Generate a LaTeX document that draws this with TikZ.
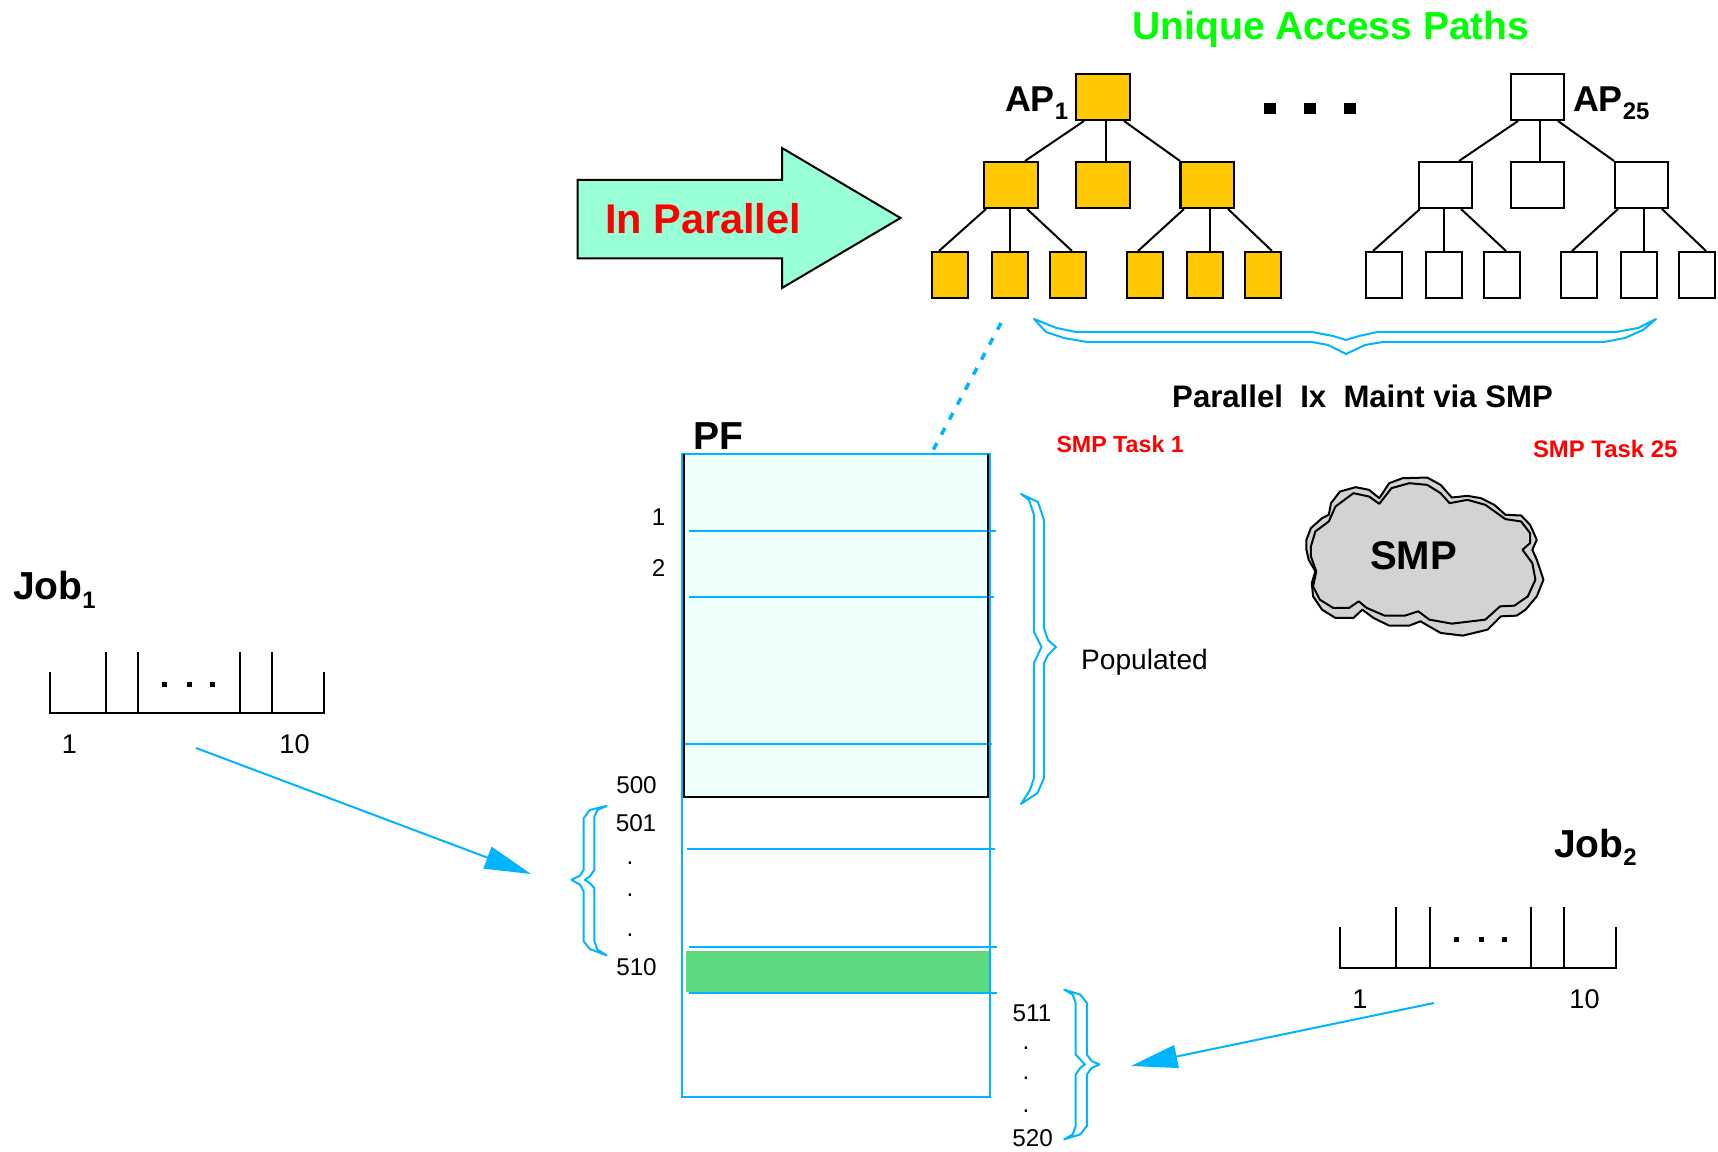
\documentclass[tikz,border=0pt]{standalone}
\usepackage{fontspec}
\setmainfont{Liberation Sans}
\usetikzlibrary{calc,arrows.meta}
\definecolor{skyl}{HTML}{00B4FF}
\definecolor{orng}{HTML}{FFC800}
\definecolor{mint}{HTML}{EFFFF9}
\definecolor{aqua}{HTML}{99FFD6}
\definecolor{grn}{HTML}{5DDA80}
\definecolor{cloudgr}{HTML}{D3D3D3}
\newcommand\fsz[1]{\fontsize{#1}{#1}\selectfont}
\tikzset{
  x=0.01cm,y=-0.01cm,
  tie/.style={draw=black,line width=0.02cm},
  topbox/.style={draw=black,line width=0.02cm,inner sep=0pt,minimum width=0.53cm,minimum height=0.46cm},
  leafbox/.style={draw=black,line width=0.02cm,inner sep=0pt,minimum width=0.365cm,minimum height=0.46cm},
  txt/.style={anchor=base,inner sep=0pt,outer sep=0pt,text=black},
  bigtxt/.style={txt,font=\fsz{11.1}\bfseries},
  aptxt/.style={txt,anchor=base west,font=\fsz{10.2}\bfseries},
  numtxt/.style={txt,font=\fsz{6.9}},
  jobnum/.style={txt,font=\fsz{7.7}},
  tasktxt/.style={txt,text=red,font=\fsz{6.6}\bfseries},
  bluel/.style={draw=skyl,line width=0.02cm},
  brace/.style={draw=skyl,line width=0.02cm,line join=round},
  dotbox/.style={fill=black,inner sep=0pt,draw=none},
  bluearrow/.style={skyl,line width=0.02cm,-{Triangle[length=0.465cm,width=0.23cm]}},
}
% #1 name prefix, #2 fill
\newcommand\aptree[2]{%
  \node[topbox,fill=#2] (#1r) at (1103,97) {};
  \node[topbox,fill=#2] (#1a) at (1011,185) {};
  \node[topbox,fill=#2] (#1b) at (1103,185) {};
  \node[topbox,fill=#2] (#1c) at (1207,185) {};
  \node[leafbox,fill=#2] (#1a1) at (950,275) {};
  \node[leafbox,fill=#2] (#1a2) at (1010,275) {};
  \node[leafbox,fill=#2] (#1a3) at (1068,275) {};
  \node[leafbox,fill=#2] (#1c1) at (1145,275) {};
  \node[leafbox,fill=#2] (#1c2) at (1205,275) {};
  \node[leafbox,fill=#2] (#1c3) at (1263,275) {};
  \aplink{#1r}{-19}{#1a}{14}
  \aplink{#1r}{3}{#1b}{3}
  \aplink{#1r}{21}{#1c}{-27}
  \aplink{#1a}{-25}{#1a1}{-11}
  \aplink{#1a}{-1}{#1a2}{0}
  \aplink{#1a}{16}{#1a3}{4}
  \aplink{#1c}{-23}{#1c1}{-7}
  \aplink{#1c}{3}{#1c2}{5}
  \aplink{#1c}{21}{#1c3}{9}
}
\newcommand\aplink[4]{\draw[tie] ($(#1.south)+(#2,0)$) -- ($(#3.north)+(#4,0)$);}
% job bar: #1 prefix, #2-#7 tick positions; y relative to the scope
\newcommand\jobbar[7]{%
  \draw[tie] (#2,672) -- (#2,712.7) -- (#7,712.7) -- (#7,672);
  \draw[tie] (#3,652) -- (#3,712.7);
  \draw[tie] (#4,652) -- (#4,712.7);
  \draw[tie] (#5,652) -- (#5,712.7);
  \draw[tie] (#6,652) -- (#6,712.7);
  \node[dotbox,minimum size=0.05cm] (#1d1) at ($(#4,684)+(26.5,0)$) {};
  \node[dotbox,minimum size=0.05cm] (#1d2) at ($(#4,684)+(51,0)$) {};
  \node[dotbox,minimum size=0.05cm] (#1d3) at ($(#4,684)+(74.5,0)$) {};
}
\begin{document}
\begin{tikzpicture}
\useasboundingbox (0,0) rectangle (1718,1152);
% title and tree labels
\node[bigtxt,text={rgb,255:red,0;green,255;blue,0}] (title) at (1331,40) {Unique Access Paths};
\aptree{l}{orng}
\begin{scope}[shift={(434,0)}]
\aptree{m}{white}
\end{scope}
\node[aptxt] (ap1) at (1005,112) {AP\raisebox{-0.08cm}{\fsz{6.8}1}};
\node[aptxt] (ap25) at (1573,112) {AP\raisebox{-0.08cm}{\fsz{6.8}25}};
\node[dotbox,minimum width=0.12cm,minimum height=0.11cm] (dot1) at (1270,108.5) {};
\node[dotbox,minimum width=0.12cm,minimum height=0.11cm] (dot2) at (1310,108.5) {};
\node[dotbox,minimum width=0.12cm,minimum height=0.11cm] (dot3) at (1350,108.5) {};
% big arrow
\draw[fill=aqua,draw=black,line width=0.02cm] (577.5,180) -- (782,180) -- (782,148) -- (900.5,218) -- (782,288) -- (782,258.5) -- (577.5,258.5) -- cycle;
\node[txt,text=red,font=\fsz{11.8}\bfseries,anchor=base west] (par) at (605,233.5) {In Parallel};
% top brace
\draw[brace] (1034,319) -- (1056.5,328) -- (1076,332) -- (1312,332) -- (1333,336) -- (1346,340) -- (1359,336) -- (1377,332) -- (1616,332) -- (1638,328) -- (1656,319) -- (1643,330) -- (1625,338) -- (1604,342) -- (1383,342) -- (1365,345) -- (1346,354) -- (1328,345) -- (1312,342) -- (1087,342) -- (1064,338) -- (1046,332) -- cycle;
\node[txt,font=\fsz{8.85}\bfseries] (ixm) at (1362.5,407.5) {Parallel\ \ Ix\ \ Maint via SMP};
\node[tasktxt,anchor=base west] (t1) at (1056.5,453) {SMP Task 1};
\node[tasktxt,anchor=base west,font=\fsz{6.8}\bfseries] (t25) at (1533,458) {SMP Task 25};
% dotted link
\coordinate (dashA) at (1001,323);
\coordinate (dashB) at (931,454);
\draw[skyl,line width=0.035cm,dash pattern=on 0.075cm off 0.095cm] (dashA) -- (dashB);
% PF
\node[bigtxt,anchor=base west] (pf) at (693,450) {PF};
\draw[fill=mint,draw=black,line width=0.02cm] (683.5,454) rectangle (988,797);
\fill[grn] (686,951) rectangle (989,992);
\draw[bluel] (689,531) -- (996,531);
\draw[bluel] (689,597) -- (994,597);
\draw[bluel] (683,744) -- (992,744);
\draw[bluel] (687,849) -- (995,849);
\draw[bluel] (689,947) -- (996.5,947);
\draw[bluel] (689,993) -- (996.5,993);
\draw[bluel] (682,454) rectangle (990,1096.5);
\draw[black,line width=0.02cm] (683.5,454) -- (683.5,797) -- (988,797) -- (988,454);
% numbers
\node[numtxt] (n1) at (658.5,525) {1};
\node[numtxt] (n2) at (658.5,577) {2};
\node[numtxt] (n500) at (636.5,793) {500};
\node[numtxt] (n501) at (636,831.7) {501};
\node[numtxt] (d1) at (630,864) {.};
\node[numtxt] (d2) at (630,896) {.};
\node[numtxt] (d3) at (630,936) {.};
\node[numtxt] (n510) at (636.5,975) {510};
\node[numtxt] (n511) at (1032,1021.7) {511};
\node[numtxt] (d4) at (1026,1049) {.};
\node[numtxt] (d5) at (1026,1079) {.};
\node[numtxt] (d6) at (1026,1112) {.};
\node[numtxt] (n520) at (1032.5,1146) {520};
\node[txt,font=\fsz{8.0}] (popu) at (1144.5,669) {Populated};
% populated brace
\draw[brace] (1021,494) -- (1038,502) -- (1044,520) -- (1044,628) -- (1048,640) -- (1056,647) -- (1048,655) -- (1044,663) -- (1044,778) -- (1037.5,793) -- (1021,804) -- (1030,790) -- (1034,778) -- (1034,663) -- (1041.5,647) -- (1034,632) -- (1034,515) -- (1029,500) -- cycle;
% 501-510 and 511-520 braces
\begin{scope}[shift={(540,760)},x=0.003827cm,y=-0.003333cm]
\draw[brace] (174,138) -- (130,150) -- (114,175) -- (114,330) -- (105,347) -- (82,360) -- (105,375) -- (114,395) -- (114,545) -- (130,568) -- (174,587) -- (150,570) -- (142,545) -- (142,385) -- (130,370) -- (117,360) -- (130,350) -- (142,330) -- (142,170) -- (150,150) -- cycle;
\draw[brace] (1368,690) -- (1410,705) -- (1427,730) -- (1427,885) -- (1440,905) -- (1460,915) -- (1440,925) -- (1427,945) -- (1427,1100) -- (1410,1125) -- (1368,1140) -- (1390,1125) -- (1398,1100) -- (1398,945) -- (1410,925) -- (1422,915) -- (1410,900) -- (1398,885) -- (1398,730) -- (1390,705) -- cycle;
\end{scope}
% cloud
\begin{scope}[shift={(1000,400)},x=0.004464cm,y=-0.003333cm]
\draw[fill=cloudgr,draw=black,line width=0.02cm,line join=round] (685,420) -- (695,385) -- (720,355) -- (735,345) -- (740,310) -- (760,275) -- (795,262) -- (825,270) -- (848,295) -- (870,250) -- (900,235) -- (955,233) -- (985,255) -- (1010,293) -- (1045,288) -- (1075,295) -- (1105,315) -- (1130,345) -- (1165,347) -- (1185,375) -- (1200,420) -- (1190,450) -- (1200,480) -- (1215,540) -- (1200,590) -- (1175,630) -- (1155,648) -- (1120,650) -- (1090,690) -- (1035,708) -- (985,700) -- (940,665) -- (915,678) -- (870,678) -- (835,655) -- (810,630) -- (790,655) -- (750,655) -- (720,630) -- (700,590) -- (697,550) -- (705,515) -- (690,480) -- (685,450) -- cycle;
\draw[fill=cloudgr,draw=black,line width=0.02cm,line join=round] (695,440) -- (705,395) -- (735,365) -- (750,320) -- (790,280) -- (825,290) -- (848,312) -- (875,265) -- (915,250) -- (955,255) -- (985,280) -- (1005,310) -- (1045,300) -- (1085,315) -- (1130,358) -- (1165,365) -- (1185,400) -- (1185,430) -- (1168,450) -- (1190,490) -- (1197,540) -- (1180,590) -- (1150,618) -- (1118,620) -- (1085,660) -- (1010,672) -- (960,660) -- (935,635) -- (905,648) -- (860,648) -- (820,625) -- (802,605) -- (780,625) -- (745,625) -- (715,600) -- (700,560) -- (707,515) -- (695,470) -- cycle;
\end{scope}
\node[txt,font=\fsz{11.4}\bfseries] (smp) at (1413.5,570) {SMP};
% jobs
\node[bigtxt,anchor=base west] (job1) at (13,600) {Job\raisebox{-0.08cm}{\fsz{6.8}1}};
\node[bigtxt,anchor=base west] (job2) at (1554,857) {Job\raisebox{-0.08cm}{\fsz{6.8}2}};
\jobbar{ja}{50}{106}{138}{240}{272}{324}
\node[jobnum] (jan1) at (69.5,753) {1};
\node[jobnum] (jan2) at (294.5,753) {10};
\begin{scope}[shift={(0,255)}]
\jobbar{jb}{1340}{1396}{1430}{1531}{1564}{1616}
\end{scope}
\node[jobnum] (jbn1) at (1360,1008.5) {1};
\node[jobnum] (jbn2) at (1584.5,1008.5) {10};
\coordinate (a1s) at (196,748);
\coordinate (a1e) at (531,874);
\coordinate (a2s) at (1434,1003);
\coordinate (a2e) at (1131,1066);
\draw[bluearrow] (a1s) -- (a1e);
\draw[bluearrow] (a2s) -- (a2e);
\end{tikzpicture}
\end{document}
